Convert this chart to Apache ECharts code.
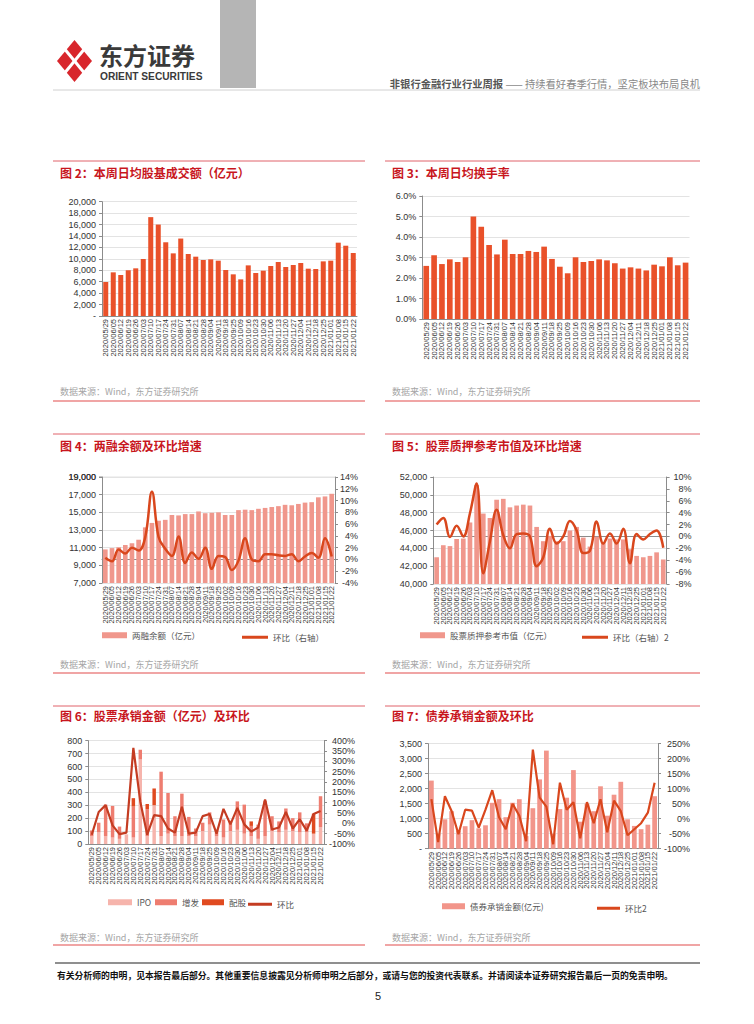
<!DOCTYPE html>
<html><head><meta charset="utf-8">
<script src="https://cdn.jsdelivr.net/npm/echarts@6/dist/echarts.min.js"></script>
<style>html,body{margin:0;padding:0;background:#fff}#c{width:754px;height:1024px}</style>
</head><body><div id="c"></div>
<script>
// ---------- data ----------
const weeks34 = ['2020/05/29','2020/06/05','2020/06/12','2020/06/19','2020/06/26','2020/07/03','2020/07/10','2020/07/17','2020/07/24','2020/07/31','2020/08/07','2020/08/14','2020/08/21','2020/08/28','2020/09/04','2020/09/11','2020/09/18','2020/09/25','2020/10/09','2020/10/16','2020/10/23','2020/10/30','2020/11/06','2020/11/13','2020/11/20','2020/11/27','2020/12/04','2020/12/11','2020/12/18','2020/12/25','2021/01/01','2021/01/08','2021/01/15','2021/01/22'];
const weeks35 = ['2020/05/29','2020/06/05','2020/06/12','2020/06/19','2020/06/26','2020/07/03','2020/07/10','2020/07/17','2020/07/24','2020/07/31','2020/08/07','2020/08/14','2020/08/21','2020/08/28','2020/09/04','2020/09/11','2020/09/18','2020/09/25','2020/10/02','2020/10/09','2020/10/16','2020/10/23','2020/10/30','2020/11/06','2020/11/13','2020/11/20','2020/11/27','2020/12/04','2020/12/11','2020/12/18','2020/12/25','2021/01/01','2021/01/08','2021/01/15','2021/01/22'];
// 图4 左轴顶部刻度
const marginTop = 19000;

// 图2 日均股基成交额（亿元）
const turnover = [5950,7640,7170,7990,8340,9970,17300,16000,12900,10960,13550,10850,10380,9800,9910,9680,8050,7290,6410,8860,7520,7930,8750,9450,8570,8920,9270,8280,8220,9560,9680,12830,12300,11020];
// 图3 日均换手率（%）
const turnoverRate = [2.59,3.11,2.68,2.91,2.78,3.01,5.0,4.5,3.61,3.15,3.87,3.17,3.17,3.32,3.27,3.53,2.93,2.55,2.23,3.01,2.78,2.83,2.91,2.86,2.72,2.46,2.52,2.46,2.37,2.65,2.57,3.01,2.62,2.75];
// 图4 两融余额（亿元）及环比（%）
const marginBal = [10800,10950,11050,11300,11500,11900,13300,13800,14050,14150,14700,14650,14800,14800,15100,14900,14950,15000,14700,14700,15250,15300,15250,15400,15500,15600,15700,15850,15800,15950,16100,16150,16700,16800,17100];
const marginChg = [0.3,-0.3,1.7,1.0,2.0,1.5,3.8,11.5,3.8,1.8,0.6,3.9,-0.6,1.2,0.1,2.0,-1.6,0.6,0.4,-1.8,-0.2,3.6,0.0,-0.3,0.9,0.9,0.7,0.6,0.9,-0.3,0.5,1.1,0.3,3.6,0.5];
// 图5 股票质押参考市值（亿元）及环比（%）
const pledgeVal = [43000,44350,44250,45050,45100,46900,51100,47900,47400,49450,49550,48600,48800,48900,48800,46400,44800,45400,44800,44800,46000,46400,45200,44200,45300,44700,45100,45000,45000,43900,43150,43000,43150,43550,42750];
const pledgeChg = [2.0,3.1,-0.1,1.8,0.0,3.9,8.9,-6.2,-0.8,4.5,0.2,-2.0,0.4,0.5,0.0,-5.0,-3.5,1.3,-1.2,0.0,2.6,1.0,-2.8,-2.4,2.5,-1.2,0.5,-1.2,1.3,-4.5,0.4,-0.5,0.4,1.0,-1.9];
// 图6 股票承销金额（亿元）及环比（%）
const ipo    = [60,90,60,50,40,75,50,655,60,300,60,80,60,60,60,60,100,150,60,50,100,110,80,60,40,60,100,90,110,100,90,90,80,130];
const zengfa = [45,75,245,245,95,0,240,75,210,0,500,315,155,330,150,60,65,95,50,140,80,220,225,80,110,275,115,85,165,100,155,70,0,240];
const peigu  = [0,0,0,0,0,0,65,0,40,130,0,0,0,0,0,0,0,0,0,0,0,0,0,35,0,0,0,0,0,0,0,0,155,0];
const equityChg = [-55,55,88,-10,-52,-45,365,105,-55,40,35,-25,-45,80,-50,-45,35,45,-50,70,-5,75,-5,-40,-20,115,-30,-20,55,-25,20,-35,45,60];
// 图7 债券承销金额（亿元）及环比（%）
const bondAmt = [2270,500,980,1250,600,750,950,680,780,1530,1650,1050,1530,1650,420,1350,2310,3270,490,1320,1700,2620,900,1500,1250,2080,1100,1800,2230,980,760,650,800,1750];
const bondChg = [65,-78,75,25,-52,30,27,-30,30,95,5,-35,50,10,-75,230,70,40,-85,120,30,55,-65,55,-15,65,-45,60,25,-55,-35,-15,20,120];

// ---------- helpers ----------
const FONT = 'Liberation Sans, Arial, Noto Sans CJK SC, sans-serif';
const CJK = 'Noto Sans CJK SC, sans-serif';
const comma = v => v === 0 ? '-' : v.toLocaleString('en-US');
const commaNum = v => v.toLocaleString('en-US');

function catAxis(gi, data, fs) {
  return {type:'category', gridIndex:gi, data:data,
    axisLine:{lineStyle:{color:'#8c8c8c', width:1}}, axisTick:{show:false},
    axisLabel:{rotate:90, interval:0, fontSize:fs, color:'#333', margin:3, fontFamily:FONT}};
}
function valAxis(gi, min, max, interval, fmt, opts) {
  opts = opts || {};
  const a = {type:'value', gridIndex:gi, min:min, max:max, interval:interval,
    position: opts.right ? 'right' : 'left',
    axisLine:{show:true, lineStyle:{color:'#8c8c8c'}},
    axisTick:{show:true, length:3, lineStyle:{color:'#8c8c8c'}},
    splitLine:{show: !opts.right, lineStyle:{color:'#e3e3e3'}},
    axisLabel:{formatter:fmt, fontSize:9, color:'#333', fontFamily:FONT, margin: opts.margin || 6,
      showMaxLabel:true, showMinLabel:true, hideOverlap:false}};
  if (opts.right) { a.axisLabel.align = 'right'; }
  return a;
}
function legendItem(name, left, top, w, h) {
  return {left:left, top:top, itemWidth:w, itemHeight:h, itemGap:5, selectedMode:false,
    padding:0, textStyle:{fontSize:8.5, color:'#555', fontFamily:CJK},
    data:[{name:name, icon:'rect'}]};
}
function txt(x, y, s, fs, color, weight, align, lh) {
  return {type:'text', x:x, y:y, silent:true,
    style:{text:s, fontSize:fs, fill:color, fontWeight:weight||'normal', fontFamily:CJK,
      align:align||'left', verticalAlign:'middle', lineHeight: lh || Math.round(fs*1.2)}};
}
function hline(x1, x2, y, color, w) {
  return {type:'line', silent:true, shape:{x1:x1, y1:y, x2:x2, y2:y}, style:{stroke:color, lineWidth:w}};
}

const RED_T = '#c8161d';
const SRC = '数据来源：Wind，东方证券研究所';

const graphic = [
  // header
  {type:'rect', shape:{x:220, y:0, width:36, height:88}, style:{fill:'#b5b5b5'}, silent:true},
  {type:'polygon', shape:{points:[[74.5,40],[92,61],[74.5,82],[57,61]]}, style:{fill:'#d8262c'}, silent:true},
  {type:'line', shape:{x1:63,y1:47,x2:86,y2:75}, style:{stroke:'#fff', lineWidth:3}, silent:true},
  {type:'line', shape:{x1:86,y1:47,x2:63,y2:75}, style:{stroke:'#fff', lineWidth:3}, silent:true},
  txt(99, 54, '东方证券', 24, '#3a3a3a', 'bold', 'left', 24),
  {type:'text', x:100, y:76.5, silent:true, style:{text:'ORIENT SECURITIES', fontSize:10.2, lineHeight:10, fontWeight:'bold', fill:'#3a3a3a', fontFamily:'Liberation Sans, Arial', verticalAlign:'middle'}},
  {type:'text', x:700, y:83, silent:true, style:{rich:{a:{fontSize:10.3,fill:'#555',fontFamily:CJK,fontWeight:'bold'}, b:{fontSize:10.3, fill:'#888', fontFamily:CJK}}, text:'{a|非银行金融行业行业周报}{b| —— 持续看好春季行情，坚定板块布局良机}', align:'right', verticalAlign:'middle'}},
  hline(53, 700, 90, '#d0d0d0', 1),
  // panel lines
  hline(53, 365, 161, '#e0636a', 1), hline(385, 700, 161, '#e0636a', 1),
  hline(53, 365, 434, '#e0636a', 1), hline(385, 700, 434, '#e0636a', 1),
  hline(53, 365, 706, '#e0636a', 1), hline(385, 700, 706, '#e0636a', 1),
  hline(53, 365, 401, '#f0a5a5', 2), hline(385, 700, 401, '#f0a5a5', 2),
  hline(53, 365, 673, '#f0a5a5', 2), hline(385, 700, 673, '#f0a5a5', 2),
  hline(53, 365, 945, '#f0a5a5', 2), hline(385, 700, 945, '#f0a5a5', 2),
  // 图4 top grid line, tick and label (19,000)
  hline(102, 335, 477, '#e3e3e3', 1),
  hline(99, 102, 477, '#8c8c8c', 1),
  {type:'text', x:96, y:477, silent:true, style:{text:commaNum(marginTop), fontSize:9, fill:'#333', fontFamily:FONT, align:'right', verticalAlign:'middle'}},
  // titles
  txt(60, 172, '图 2：本周日均股基成交额（亿元）', 12, RED_T, 'bold'),
  txt(392, 172, '图 3：本周日均换手率', 12, RED_T, 'bold'),
  txt(60, 445, '图 4：两融余额及环比增速', 12, RED_T, 'bold'),
  txt(392, 445, '图 5：股票质押参考市值及环比增速', 12, RED_T, 'bold'),
  txt(60, 715, '图 6：股票承销金额（亿元）及环比', 12, RED_T, 'bold'),
  txt(392, 715, '图 7：债券承销金额及环比', 12, RED_T, 'bold'),
  // sources
  txt(60, 391, SRC, 9, '#a5a5a5'), txt(392, 391, SRC, 9, '#a5a5a5'),
  txt(60, 664, SRC, 9, '#a5a5a5'), txt(392, 664, SRC, 9, '#a5a5a5'),
  txt(60, 937, SRC, 9, '#a5a5a5'), txt(392, 937, SRC, 9, '#a5a5a5'),
  // footer
  hline(55, 700, 963, '#8f8f8f', 2),
  txt(57, 975, '有关分析师的申明，见本报告最后部分。其他重要信息披露见分析师申明之后部分，或请与您的投资代表联系。并请阅读本证券研究报告最后一页的免责申明。', 8.8, '#111', 'bold'),
  {type:'text', x:378, y:996, silent:true, style:{text:'5', fontSize:11, fill:'#222', fontFamily:'Liberation Sans, Arial', align:'center', verticalAlign:'middle'}}
];

const option = {
  animation:false,
  backgroundColor:'#fff',
  textStyle:{fontFamily:FONT},
  grid:[
    {left:102, top:201.7, width:255, height:114.3},
    {left:422.3, top:196, width:267.2, height:123},
    {left:102, top:477, width:233, height:106},
    {left:433.3, top:477, width:233.3, height:107},
    {left:88.3, top:740.7, width:235.7, height:103.3},
    {left:428, top:743.7, width:230, height:105}
  ],
  xAxis:[
    catAxis(0, weeks34, 7.5), catAxis(1, weeks34, 7.5),
    catAxis(2, weeks35, 7.5), catAxis(3, weeks35, 7.5),
    catAxis(4, weeks34, 7.5), catAxis(5, weeks34, 7.5)
  ],
  yAxis:[
    valAxis(0, 0, 20000, 2000, comma),
    valAxis(1, 0, 6, 1, v => v.toFixed(1) + '%'),
    valAxis(2, 7000, marginTop, 2000, commaNum),
    valAxis(2, -4, 14, 2, v => v + '%', {right:true, margin:23}),
    valAxis(3, 40000, 52000, 2000, commaNum),
    valAxis(3, -8, 10, 2, v => v + '%', {right:true, margin:25}),
    valAxis(4, 0, 800, 100, v => v),
    valAxis(4, -100, 400, 50, v => v + '%', {right:true, margin:31}),
    valAxis(5, 0, 3500, 500, comma),
    valAxis(5, -100, 250, 50, v => v + '%', {right:true, margin:32})
  ],
  legend:[
    legendItem('两融余额（亿元）', 102, 631, 25, 6),
    legendItem('环比（右轴）', 242, 633, 26, 3),
    legendItem('股票质押参考市值（亿元）', 420, 631, 25, 6),
    legendItem('环比（右轴）2', 582, 633, 26, 3),
    legendItem('IPO', 108, 898, 24, 6),
    legendItem('增发', 155, 898, 22, 6),
    legendItem('配股', 202, 898, 22, 6),
    legendItem('环比', 248, 900, 24, 3),
    legendItem('债券承销金额(亿元)', 442, 902, 23, 6),
    legendItem('环比2', 597, 904, 23, 3)
  ],
  graphic: graphic,
  series:[
    {name:'日均股基成交额', type:'bar', xAxisIndex:0, yAxisIndex:0, data:turnover, barCategoryGap:'33%', itemStyle:{color:'#e9512a'}},
    {name:'日均换手率', type:'bar', xAxisIndex:1, yAxisIndex:1, data:turnoverRate, barCategoryGap:'28%', itemStyle:{color:'#e9512a'}},
    {name:'两融余额（亿元）', type:'bar', xAxisIndex:2, yAxisIndex:2, data:marginBal, barCategoryGap:'30%', itemStyle:{color:'#f0978c'}},
    {name:'环比（右轴）', type:'line', xAxisIndex:2, yAxisIndex:3, data:marginChg, smooth:0.4, symbol:'none', lineStyle:{width:2.5, color:'#d9471d'}, itemStyle:{color:'#d9471d'}},
    {name:'股票质押参考市值（亿元）', type:'bar', xAxisIndex:3, yAxisIndex:4, data:pledgeVal, barCategoryGap:'30%', itemStyle:{color:'#f0978c'}},
    {name:'环比（右轴）2', type:'line', xAxisIndex:3, yAxisIndex:5, data:pledgeChg, smooth:0.4, symbol:'none', lineStyle:{width:2.5, color:'#d9471d'}, itemStyle:{color:'#d9471d'}},
    {name:'IPO', type:'bar', stack:'eq', xAxisIndex:4, yAxisIndex:6, data:ipo, barCategoryGap:'50%', itemStyle:{color:'#f6b4ac'}},
    {name:'增发', type:'bar', stack:'eq', xAxisIndex:4, yAxisIndex:6, data:zengfa, itemStyle:{color:'#ee7d70'}},
    {name:'配股', type:'bar', stack:'eq', xAxisIndex:4, yAxisIndex:6, data:peigu, itemStyle:{color:'#e04a20'}},
    {name:'环比', type:'line', xAxisIndex:4, yAxisIndex:7, data:equityChg, symbol:'none', lineStyle:{width:2.2, color:'#c43c22'}, itemStyle:{color:'#c43c22'}},
    {name:'债券承销金额(亿元)', type:'bar', xAxisIndex:5, yAxisIndex:8, data:bondAmt, barCategoryGap:'30%', itemStyle:{color:'#f2958a'}},
    {name:'环比2', type:'line', xAxisIndex:5, yAxisIndex:9, data:bondChg, symbol:'none', lineStyle:{width:2.2, color:'#d9471d'}, itemStyle:{color:'#d9471d'}}
  ]
};
const chart = echarts.init(document.getElementById('c'), null, {renderer:'svg', width:754, height:1024});
chart.setOption(option);
</script>
</body></html>
